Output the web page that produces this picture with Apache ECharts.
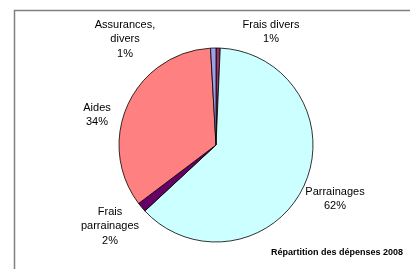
<!DOCTYPE html>
<html>
<head>
<meta charset="utf-8">
<script src="https://cdn.jsdelivr.net/npm/echarts@6/dist/echarts.min.js"></script>
<style>
html, body { margin: 0; padding: 0; background: #fff; }
#chart { width: 410px; height: 269px; }
</style>
</head>
<body>
<div id="chart"></div>
<script>
// postes de dépenses, dans le sens horaire depuis midi
var categories = ['Frais divers', 'Parrainages', 'Frais\nparrainages', 'Aides', 'Assurances,\ndivers'];
// parts estimées (%) d'après les secteurs
var values = [0.7, 62.4, 1.6, 34.4, 0.9];
var colors = ['#993366', '#CCFFFF', '#660066', '#FF8080', '#A0A0E8'];
// position des étiquettes (centre du texte)
var labelPos = [[271, 32], [335, 199], [110, 226], [97, 115], [125, 39]];

var myChart = echarts.init(document.getElementById('chart'));

var pieData = [];
for (var i = 0; i < categories.length; i++) {
    pieData.push({name: categories[i], value: values[i], itemStyle: {color: colors[i]}});
}

option = {
    animation: false,
    graphic: [
        {
            type: 'rect',
            shape: {x: 14.5, y: 10.5, width: 420, height: 280},
            style: {fill: 'none', stroke: '#808080', lineWidth: 1.5}
        },
        {
            type: 'text',
            right: 7,
            top: 248,
            style: {
                text: 'Répartition des dépenses 2008',
                font: 'bold 9px "Liberation Sans", Arial, sans-serif',
                fill: '#000'
            }
        }
    ],
    series: [{
        type: 'pie',
        center: [216, 145],
        radius: 97,
        startAngle: 90,
        clockwise: true,
        minAngle: 0,
        avoidLabelOverlap: false,
        itemStyle: {borderColor: '#000', borderWidth: 0.8},
        label: {
            show: true,
            position: 'outside',
            fontFamily: '"Liberation Sans", Arial, sans-serif',
            fontSize: 11,
            lineHeight: 14.5,
            color: '#000',
            align: 'center',
            formatter: function (p) {
                return p.name + '\n' + Math.round(p.value) + '%';
            }
        },
        labelLine: {show: false},
        labelLayout: function (p) {
            var pos = labelPos[p.dataIndex];
            return {x: pos[0], y: pos[1], align: 'center', verticalAlign: 'middle'};
        },
        data: pieData
    }]
};
myChart.setOption(option);
</script>
</body>
</html>
